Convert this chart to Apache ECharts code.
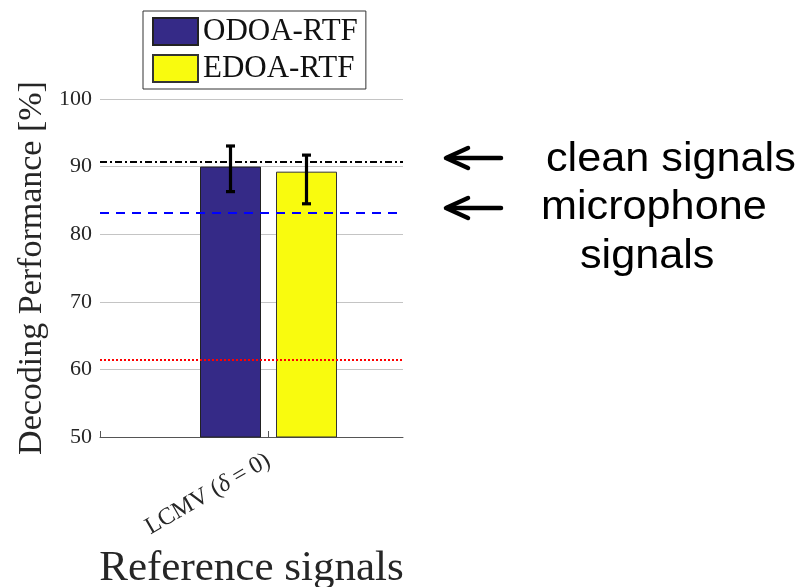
<!DOCTYPE html>
<html>
<head>
<meta charset="utf-8">
<script src="https://cdn.jsdelivr.net/npm/echarts@6/dist/echarts.min.js"></script>
<style>
  html, body { margin: 0; padding: 0; background: #fff; }
  #chart { width: 803px; height: 587px; }
</style>
</head>
<body>
<div id="chart"></div>
<script>
// data
const categories = ['LCMV (δ = 0)']
const seriesNames = ['ODOA-RTF', 'EDOA-RTF']
const odoaMean = [90.0]
const odoaErr = [[86.3, 93.05]]
const edoaMean = [89.25]
const edoaErr = [[84.5, 91.7]]
const cleanLevel = 90.7
const micLevel = 83.1
const chanceLevel = 61.4
const yMin = 50
const yMax = 100
const yStep = 10

const serif = '"Liberation Serif", "DejaVu Serif", serif'
const sans = '"Liberation Sans", Arial, sans-serif'
const barW = 61
const barGapPx = 15

function errorBar (offset) {
  return function (params, api) {
    const top = api.coord([api.value(0), api.value(2)])
    const bot = api.coord([api.value(0), api.value(1)])
    const x = top[0] + offset
    const cap = 4.5
    const style = { stroke: '#000', lineWidth: 3.2 }
    return {
      type: 'group',
      children: [
        { type: 'line', shape: { x1: x, y1: top[1], x2: x, y2: bot[1] }, style: style },
        { type: 'line', shape: { x1: x - cap, y1: top[1], x2: x + cap, y2: top[1] }, style: style },
        { type: 'line', shape: { x1: x - cap, y1: bot[1], x2: x + cap, y2: bot[1] }, style: style }
      ]
    }
  }
}

function arrow (y) {
  const st = { stroke: '#000', lineWidth: 4.5, lineCap: 'round', lineJoin: 'round', fill: null }
  return {
    type: 'group',
    children: [
      { type: 'line', shape: { x1: 447, y1: y, x2: 501, y2: y }, style: st },
      { type: 'polyline', shape: { points: [[468, y - 10], [446, y], [468, y + 10]] }, style: st }
    ]
  }
}

function note (text, x, y) {
  return {
    type: 'text',
    x: x,
    y: y,
    scaleX: 1.08,
    style: { text: text, font: '40px ' + sans, fill: '#000' }
  }
}

const chart = echarts.init(document.getElementById('chart'))
const off = (barW + barGapPx) / 2

chart.setOption({
  animation: false,
  grid: [
    { left: 100, top: 99, width: 303, height: 338, outerBoundsMode: 'none', containLabel: false },
    { left: 134, top: 99, width: 269, height: 338, outerBoundsMode: 'none', containLabel: false }
  ],
  legend: {
    data: seriesNames,
    orient: 'vertical',
    left: 143,
    top: 11,
    padding: [5, 8, 5, 9],
    itemWidth: 45,
    itemHeight: 27,
    itemGap: 6,
    icon: 'rect',
    borderColor: '#333',
    borderWidth: 1,
    textStyle: { fontFamily: serif, fontSize: 31, color: '#111' }
  },
  xAxis: [
    {
      type: 'value',
      gridIndex: 0,
      min: 0,
      max: 1,
      axisLine: { lineStyle: { color: '#555', width: 1 } },
      axisTick: { show: true, inside: true, length: 6, customValues: [0], lineStyle: { color: '#555' } },
      axisLabel: { show: false },
      splitLine: { show: false },
      name: 'Reference signals',
      nameLocation: 'middle',
      nameGap: 110,
      nameTextStyle: { fontFamily: serif, fontSize: 43, color: '#262626' }
    },
    {
      type: 'category',
      gridIndex: 1,
      data: categories,
      axisLine: { show: false },
      axisTick: { show: true, inside: true, length: 6, alignWithLabel: true, lineStyle: { color: '#555' } },
      axisLabel: {
        rotate: 30,
        margin: 22,
        color: '#262626',
        fontFamily: serif,
        fontSize: 24,
        formatter: function () {
          return '{a|LCMV (}{i|δ}{a| = 0)}'
        },
        rich: {
          a: { fontFamily: serif, fontSize: 24, color: '#262626' },
          i: { fontFamily: serif, fontSize: 24, fontStyle: 'italic', color: '#262626' }
        }
      }
    }
  ],
  yAxis: [
    {
      type: 'value',
      gridIndex: 0,
      min: yMin,
      max: yMax,
      interval: yStep,
      axisLine: { show: false },
      axisTick: { show: false },
      axisLabel: { fontFamily: serif, fontSize: 22, color: '#262626', margin: 8 },
      splitLine: { lineStyle: { color: '#c4c4c4', width: 1 } },
      name: 'Decoding Performance [%]',
      nameLocation: 'middle',
      nameGap: 51,
      nameTextStyle: { fontFamily: serif, fontSize: 34, color: '#262626' }
    },
    {
      type: 'value',
      gridIndex: 1,
      min: yMin,
      max: yMax,
      show: false
    }
  ],
  series: [
    {
      name: seriesNames[0],
      type: 'bar',
      xAxisIndex: 1,
      yAxisIndex: 1,
      barWidth: barW,
      barGap: (barGapPx / barW * 100) + '%',
      data: odoaMean,
      itemStyle: { color: '#352a87', borderColor: '#222', borderWidth: 1 },
      z: 2
    },
    {
      name: seriesNames[1],
      type: 'bar',
      xAxisIndex: 1,
      yAxisIndex: 1,
      barWidth: barW,
      data: edoaMean,
      itemStyle: { color: '#f9fb0e', borderColor: '#333', borderWidth: 1 },
      z: 2
    },
    {
      type: 'line',
      xAxisIndex: 0,
      yAxisIndex: 0,
      data: [],
      z: 5,
      markLine: {
        silent: true,
        symbol: ['none', 'none'],
        label: { show: false },
        data: [
          { yAxis: cleanLevel, lineStyle: { color: '#000', width: 2, type: [7, 3, 2, 3] } },
          { yAxis: micLevel, lineStyle: { color: '#0000ff', width: 2, type: [9, 7] } },
          { yAxis: chanceLevel, lineStyle: { color: '#ff0000', width: 2, type: [2, 2] } }
        ]
      }
    },
    {
      type: 'custom',
      xAxisIndex: 1,
      yAxisIndex: 1,
      renderItem: errorBar(-off),
      encode: { x: 0, y: [1, 2] },
      data: odoaErr.map((e, i) => [i, e[0], e[1]]),
      z: 10
    },
    {
      type: 'custom',
      xAxisIndex: 1,
      yAxisIndex: 1,
      renderItem: errorBar(off),
      encode: { x: 0, y: [1, 2] },
      data: edoaErr.map((e, i) => [i, e[0], e[1]]),
      z: 10
    }
  ],
  graphic: [
    arrow(158),
    arrow(208),
    note('clean signals', 546, 140),
    note('microphone', 541, 188),
    note('signals', 580, 237)
  ]
})
</script>
</body>
</html>
